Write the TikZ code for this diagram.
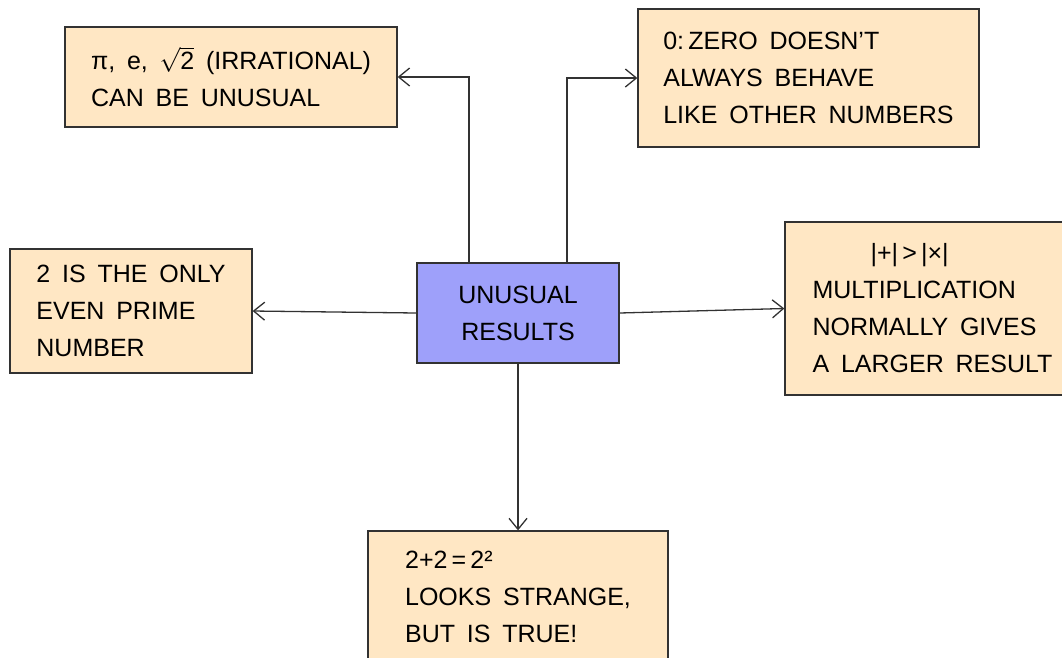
\documentclass[tikz,border=0pt]{standalone}
\usepackage{fontspec}
\setmainfont{Liberation Sans}[WordSpace=1.7]
\usetikzlibrary{positioning, arrows.meta}
\definecolor{factfill}{RGB}{255,231,196}
\definecolor{hubfill}{RGB}{158,160,250}
\definecolor{inkgray}{RGB}{50,50,50}

\begin{document}
\begin{tikzpicture}[
        x=1pt, y=-1pt,
        fact/.style={draw=inkgray, fill=factfill, rectangle, line width=1.3pt, align=left, inner sep=0pt,
            font=\fontsize{25}{37}\selectfont},
        hub/.style={draw=inkgray, fill=hubfill, rectangle, line width=1.3pt, align=center, inner sep=0pt,
            minimum width=202pt, minimum height=100pt, font=\fontsize{25}{37}\selectfont},
        arrow/.style={-{Straight Barb[length=11pt, width=18pt]}, draw=inkgray, line width=1.3pt}
    ]
    \useasboundingbox (0,0) rectangle (1062,657);

    % Nodes
    \node[hub] (unusual) at (518, 313) {UNUSUAL\\RESULTS};
    \node[fact, minimum width=332pt, minimum height=100pt] (irrational) at (231, 77)
        {π, e, $\sqrt{\mbox{2}}$ (IRRATIONAL)\\CAN BE UNUSUAL};
    \node[fact, minimum width=341pt, minimum height=138pt] (zero) at (808.5, 78)
        {0:\,ZERO DOESN'T\\ALWAYS BEHAVE\\LIKE OTHER NUMBERS};
    \node[fact, minimum width=242pt, minimum height=124pt] (prime) at (131, 311)
        {2 IS THE ONLY\\EVEN PRIME\\NUMBER};
    \node[fact, minimum width=295pt, minimum height=173pt] (mult) at (932.5, 308.5)
        {\hspace*{58pt}|+|\,>\,|×|\\MULTIPLICATION\\NORMALLY GIVES\\A LARGER RESULT};
    \node[fact, minimum width=300pt, minimum height=132pt] (strange) at (518, 597)
        {2+2\,=\,2²\\LOOKS STRANGE,\\BUT IS TRUE!};

    % Arrows out of the centre
    \draw[arrow] ([xshift=-49pt]unusual.north) |- (irrational.east);
    \draw[arrow] ([xshift=49pt]unusual.north) |- (zero.west);
    \draw[arrow] (unusual.west) -- (prime.east);
    \draw[arrow] (unusual.east) -- (mult.west);
    \draw[arrow] (unusual) -- (strange);
\end{tikzpicture}
\end{document}
